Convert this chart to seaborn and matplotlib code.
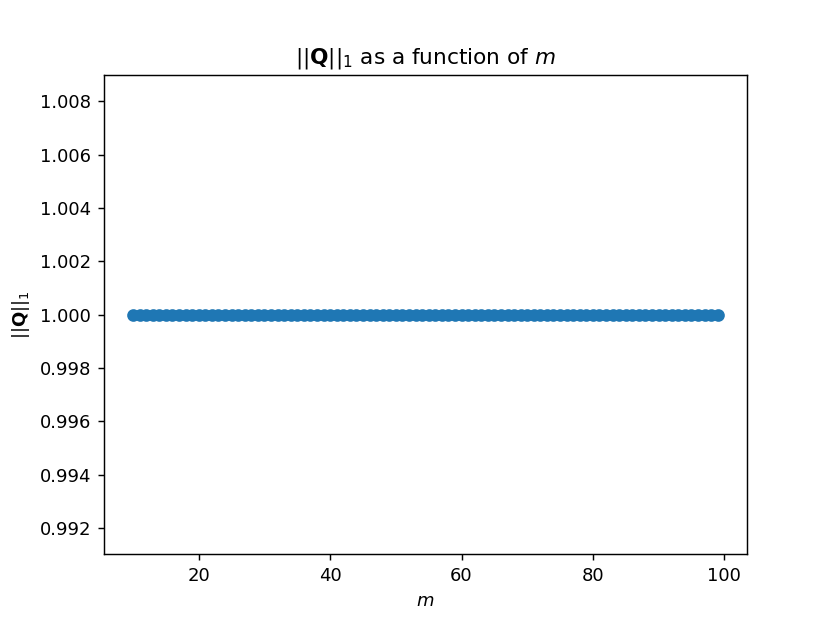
import numpy as np
import pandas as pd
import matplotlib
matplotlib.use("Agg")
import matplotlib.pyplot as plt
import seaborn as sns

# values of m (one point per integer, 10 .. 99)
m_values = [10, 11, 12, 13, 14, 15, 16, 17, 18, 19,
            20, 21, 22, 23, 24, 25, 26, 27, 28, 29,
            30, 31, 32, 33, 34, 35, 36, 37, 38, 39,
            40, 41, 42, 43, 44, 45, 46, 47, 48, 49,
            50, 51, 52, 53, 54, 55, 56, 57, 58, 59,
            60, 61, 62, 63, 64, 65, 66, 67, 68, 69,
            70, 71, 72, 73, 74, 75, 76, 77, 78, 79,
            80, 81, 82, 83, 84, 85, 86, 87, 88, 89,
            90, 91, 92, 93, 94, 95, 96, 97, 98, 99]
# ||Q||_1 is 1.0 at every m
q_norm = [1.0] * len(m_values)

df = pd.DataFrame({"m": m_values, "q": q_norm})

fig, ax = plt.subplots(figsize=(830 / 130, 623 / 130), dpi=130)
sns.scatterplot(data=df, x="m", y="q", ax=ax, color="#1f77b4", s=36,
                edgecolor="#1f77b4", linewidth=1.0)

ax.set_ylim(0.991, 1.009)
ax.set_yticks([0.992, 0.994, 0.996, 0.998, 1.000, 1.002, 1.004, 1.006, 1.008])
ax.set_xticks([20, 40, 60, 80, 100])
ax.set_title(r"$||\mathbf{Q}||_1$ as a function of $m$")
ax.set_xlabel(r"$m$")
ax.set_ylabel(r"$||\mathbf{Q}||_1$")

fig.savefig("out.png", dpi=130)
